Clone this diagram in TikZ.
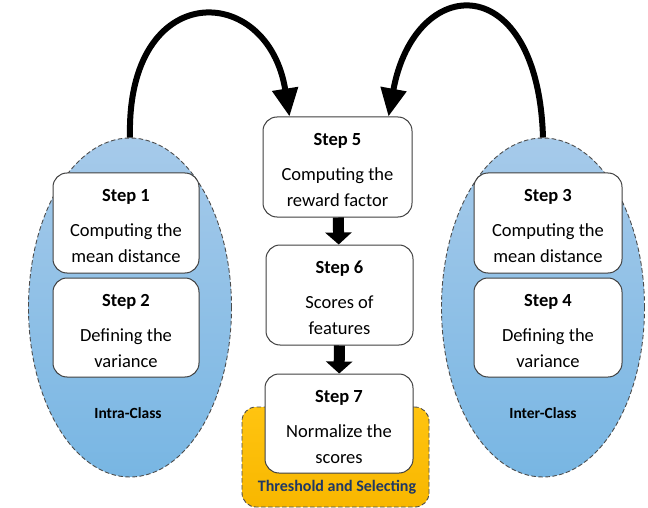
\documentclass[tikz,border=0pt]{standalone}
\usepackage{fontspec}
\setmainfont{Carlito}
\usetikzlibrary{arrows.meta,shapes.geometric}
\definecolor{lobeTop}{HTML}{A6CAEA}
\definecolor{lobeBot}{HTML}{78B6E3}
\definecolor{goldTop}{HTML}{FFC410}
\definecolor{goldBot}{HTML}{F8B700}
\definecolor{navyText}{HTML}{1F3864}
\begin{document}
\begin{tikzpicture}[x=1pt,y=-1pt,
  lobe/.style={ellipse, draw=black!70, line width=0.9pt, dash pattern=on 4.5pt off 2.5pt,
    top color=lobeTop, bottom color=lobeBot, minimum width=203pt, minimum height=339pt, inner sep=0pt},
  stepbox/.style={draw=black!75, line width=1pt, fill=white, rounded corners=14pt,
    minimum width=#1, minimum height=100pt, inner sep=0pt},
  stepbox/.default=147pt,
  steptext/.style={align=center, inner sep=0pt, font=\fontsize{18.5}{26}\selectfont},
  goldbox/.style={draw=black!70, line width=0.9pt, dash pattern=on 4.5pt off 2.5pt,
    top color=goldTop, bottom color=goldBot, rounded corners=14pt,
    minimum width=187pt, minimum height=100pt, inner sep=0pt},
  grouplabel/.style={font=\fontsize{15.5}{18}\selectfont\bfseries},
  loop/.style={line width=6pt, -{Triangle[length=28pt,width=25pt]}},
  flow/.style={line width=11pt, -{Triangle[length=12pt,width=26pt]}}
]
\useasboundingbox (0,0) rectangle (648,508);

% class ellipses
\node[lobe] (lobeL) at (130,307.5) {};
\node[lobe] (lobeR) at (543,307.5) {};

% threshold panel behind step 7
\node[goldbox] (gold) at (335.5,457) {};

% step boxes
\node[stepbox=146pt] (s1) at (126,223) {};
\node[stepbox=146pt, minimum height=99pt] (s2) at (126,327.5) {};
\node[stepbox=148pt] (s3) at (548,223) {};
\node[stepbox=148pt, minimum height=99pt] (s4) at (548,327.5) {};
\node[stepbox=149pt] (s5) at (337.5,167) {};
\node[stepbox=147pt] (s6) at (339.5,295) {};
\node[stepbox=148pt, minimum height=99pt] (s7) at (339,423.5) {};

% step texts
\node[steptext] (t1) at ([yshift=-3pt]s1.center) {\textbf{Step 1}\\[9pt]Computing the\\mean distance};
\node[steptext] (t2) at ([yshift=-3pt]s2.center) {\textbf{Step 2}\\[9pt]Defining the\\variance};
\node[steptext] (t3) at ([yshift=-3pt]s3.center) {\textbf{Step 3}\\[9pt]Computing the\\mean distance};
\node[steptext] (t4) at ([yshift=-3pt]s4.center) {\textbf{Step 4}\\[9pt]Defining the\\variance};
\node[steptext] (t5) at ([yshift=-3pt]s5.center) {\textbf{Step 5}\\[9pt]Computing the\\reward factor};
\node[steptext] (t6) at ([yshift=-3pt]s6.center) {\textbf{Step 6}\\[9pt]Scores of\\features};
\node[steptext] (t7) at ([yshift=-3pt]s7.center) {\textbf{Step 7}\\[9pt]Normalize the\\scores};

% group labels
\node[grouplabel] (intra) at (128,413) {Intra-Class};
\node[grouplabel] (inter) at (543,413) {Inter-Class};
\node[grouplabel, font=\fontsize{16}{18}\selectfont\bfseries, text=navyText] (thr) at (337,487) {Threshold and Selecting};

% flow between central steps
\draw[flow] (s5) -- (s6);
\draw[flow] (s6) -- (s7);

% feedback loops into step 5
\coordinate (inL) at ([xshift=27pt]s5.north west);
\coordinate (inR) at ([xshift=-24pt]s5.north east);
\draw[loop] (lobeL.north) .. controls (126,-22) and (268,-19) .. (inL);
\draw[loop] (lobeR.north) .. controls (538,-32) and (415,-28) .. (inR);
\end{tikzpicture}
\end{document}
